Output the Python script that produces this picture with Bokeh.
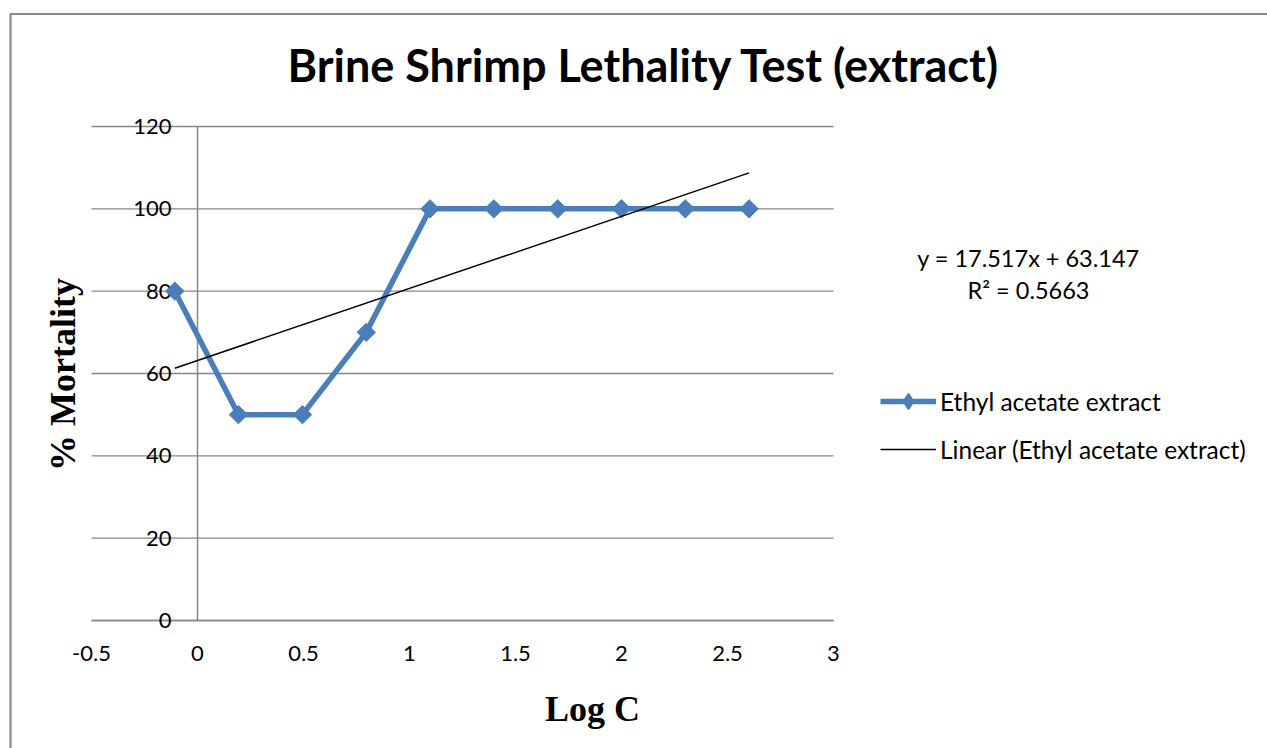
import numpy as np
from bokeh.plotting import figure
from bokeh.models import (Range1d, Legend, LegendItem, Label, BoxAnnotation)
from bokeh.core.properties import value
from bokeh.embed import file_html
from bokeh.resources import INLINE

# ---- data ----
log_c = [-0.107, 0.193, 0.495, 0.796, 1.097, 1.398, 1.699, 2.0, 2.301, 2.602]
mortality = [80, 50, 50, 70, 100, 100, 100, 100, 100, 100]
trend_slope = 17.517
trend_intercept = 63.147
r_squared = 0.5663
x_tick_values = [-0.5, 0, 0.5, 1, 1.5, 2, 2.5, 3]
x_tick_labels = ["-0.5", "0", "0.5", "1", "1.5", "2", "2.5", "3"]
y_tick_values = [0, 20, 40, 60, 80, 100, 120]
y_tick_labels = ["0", "20", "40", "60", "80", "100", "120"]
series_name = "Ethyl acetate extract"
trend_name = "Linear (Ethyl acetate extract)"
title_text = "Brine Shrimp Lethality Test (extract)"
x_title = "Log C"
y_title = "% Mortality"

BLUE = "#4A7EBB"
GRAY = "#868686"
SANS = "Lato"
SERIF = "Liberation Serif"

W, H = 1267, 748
# plot-area placement (pixels) of the axis ranges -0.5..3 and 0..120
PX_L, PX_R, PX_T, PX_B = 91, 833, 126, 620
XMIN, XMAX, YMIN, YMAX = -0.5, 3.0, 0.0, 120.0
kx = (PX_R - PX_L) / (XMAX - XMIN)
ky = (PX_B - PX_T) / (YMAX - YMIN)

p = figure(width=W, height=H,
           x_range=Range1d(XMIN - PX_L / kx, XMAX + (W - PX_R) / kx),
           y_range=Range1d(YMIN - (H - PX_B) / ky, YMAX + PX_T / ky),
           x_axis_location=None, y_axis_location=None,
           output_backend="svg", toolbar_location=None, min_border=0)
p.background_fill_color = "white"
p.border_fill_color = "white"
p.outline_line_color = None
p.grid.visible = False

# horizontal gridlines across the plot area
p.segment(x0=[XMIN] * len(y_tick_values), x1=[XMAX] * len(y_tick_values),
          y0=y_tick_values, y1=y_tick_values, line_color=GRAY, line_width=1.4)
# vertical axis crossing at x = 0, horizontal axis at y = 0
p.segment(x0=[0], x1=[0], y0=[YMIN], y1=[YMAX], line_color=GRAY, line_width=1.5)
p.segment(x0=[XMIN], x1=[XMAX], y0=[0], y1=[0], line_color=GRAY, line_width=1.5)

# tick labels
p.text(x=[0] * len(y_tick_values), y=y_tick_values, text=y_tick_labels,
       x_offset=-26, text_align="right", text_baseline="middle",
       text_font=value(SANS), text_font_size="22px", text_color="black")
p.text(x=x_tick_values, y=[0] * len(x_tick_values), text=x_tick_labels,
       y_offset=33, text_align="center", text_baseline="middle",
       text_font=value(SANS), text_font_size="22px", text_color="black")

# series
l1 = p.line(log_c, mortality, line_color=BLUE, line_width=5.5)
s1 = p.scatter(log_c, mortality, marker="square", angle=np.pi / 4, size=13,
               fill_color=BLUE, line_color=BLUE)
# legend-only marker (diamond shape in the key; its single point is not drawn)
key_marker = p.scatter(x=[np.nan], y=[np.nan], marker="diamond", size=13,
                       fill_color=BLUE, line_color=BLUE)

# trendline
tx = np.array([min(log_c), max(log_c)])
ty = trend_slope * tx + trend_intercept
tl = p.line(tx, ty, line_color="black", line_width=1.5)

legend = Legend(items=[LegendItem(label=series_name, renderers=[l1, key_marker]),
                       LegendItem(label=trend_name, renderers=[tl])],
                location=(880, 278), glyph_width=56, glyph_height=42, spacing=6,
                label_standoff=4, padding=0, margin=0,
                label_text_font=SANS, label_text_font_size="24.5px",
                label_text_color="black",
                border_line_color=None, background_fill_alpha=0)
p.add_layout(legend, "center")

def px_x(px):
    return XMIN + (px - PX_L) / kx

def px_y(py):
    return YMAX - (py - PX_T) / ky

# title
p.add_layout(Label(x=px_x(643.5), y=px_y(64), text=title_text, text_align="center",
                   text_baseline="middle", text_font=SANS, text_font_style="bold",
                   text_font_size="45px", text_color="black"))
# axis titles
p.add_layout(Label(x=px_x(62), y=px_y(374), text=y_title, angle=np.pi / 2,
                   text_align="center", text_baseline="middle", text_font=SERIF,
                   text_font_style="bold", text_font_size="36px", text_color="black"))
p.add_layout(Label(x=px_x(592), y=px_y(708), text=x_title,
                   text_align="center", text_baseline="middle", text_font=SERIF,
                   text_font_style="bold", text_font_size="36px", text_color="black"))

# trendline equation
p.add_layout(Label(x=px_x(1028), y=px_y(257.5), text=f"y = {trend_slope}x + {trend_intercept}",
                   text_align="center", text_baseline="middle", text_font=SANS,
                   text_font_size="23.5px", text_color="black"))
p.add_layout(Label(x=px_x(1028), y=px_y(289.5), text=f"R\u00b2 = {r_squared}",
                   text_align="center", text_baseline="middle", text_font=SANS,
                   text_font_size="23.5px", text_color="black"))

# chart area border
p.add_layout(BoxAnnotation(left=px_x(10), top=px_y(13.5), right=px_x(W + 50),
                           bottom=px_y(H + 50), fill_alpha=0, line_alpha=1,
                           line_color="#888888", line_width=2.2, level="underlay"))

open("out.html", "w").write(file_html(p, INLINE))
